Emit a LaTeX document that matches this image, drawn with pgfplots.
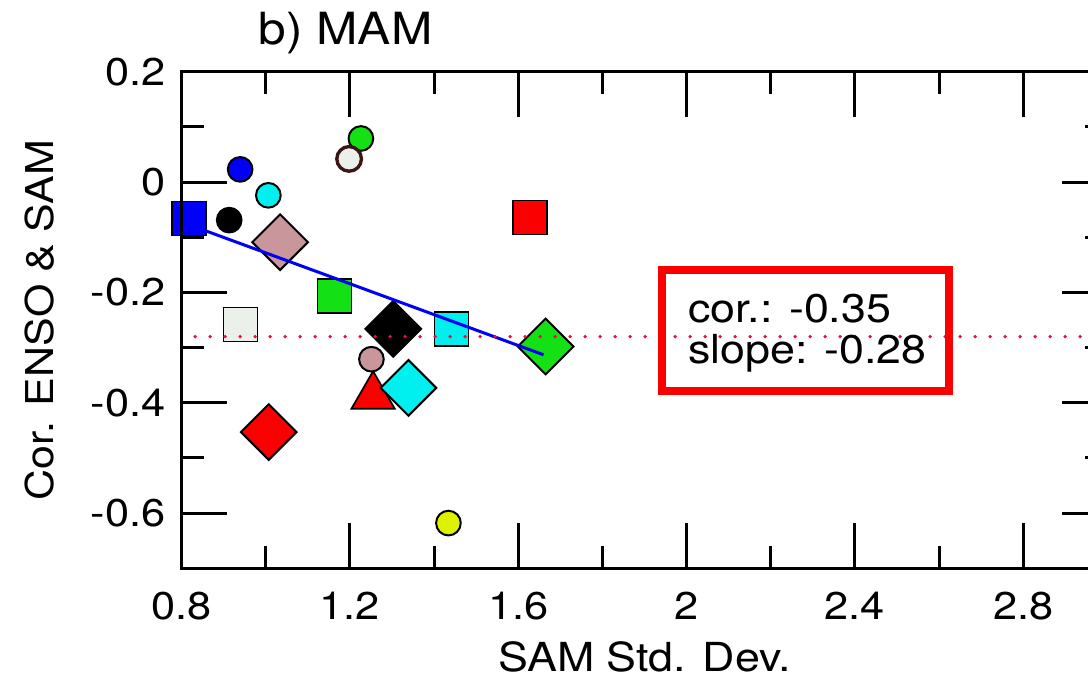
\documentclass[border=0pt]{standalone}
\usepackage{fontspec}
\setmainfont[FakeStretch=1.12]{TeX Gyre Heros}
\usepackage{pgfplots}
\pgfplotsset{compat=1.18}

\definecolor{mblue}{RGB}{0,0,250}
\definecolor{mcyan}{RGB}{0,240,240}
\definecolor{mgreen}{RGB}{20,225,20}
\definecolor{mred}{RGB}{250,0,0}
\definecolor{mpink}{RGB}{200,150,155}
\definecolor{mlight}{RGB}{236,240,234}
\definecolor{myellow}{RGB}{222,242,0}
\definecolor{mbrown}{RGB}{60,20,20}
\definecolor{dotred}{RGB}{225,20,60}

\pgfplotsset{
  sq/.style={only marks, mark=square*, mark size=5.1pt,
    mark options={draw=black, line width=0.5pt, fill=#1}},
  ci/.style={only marks, mark=*, mark size=3.7pt,
    mark options={draw=black, line width=0.6pt, fill=#1}},
  di/.style={only marks, mark=square*, mark size=5.9pt,
    mark options={rotate=45, draw=black, line width=0.6pt, fill=#1}},
  tr/.style={only marks, mark=triangle*, mark size=7.5pt,
    mark options={draw=black, line width=0.5pt, fill=#1}},
}

\begin{document}
\begin{tikzpicture}[x=1pt,y=1pt]
\path[use as bounding box, clip] (-54.5,-32.9) rectangle (271.9,170.5);
\begin{axis}[
  at={(0,0)}, anchor=south west,
  scale only axis, width=277.7pt, height=149pt,
  xmin=0.8, xmax=3.0, ymin=-0.7, ymax=0.2,
  xtick={0.8,1.2,1.6,2,2.4,2.8},
  xticklabels={0.8,1.2,1.6,2,2.4,2.8},
  minor xtick={1.0,1.4,1.8,2.2,2.6},
  ytick={-0.6,-0.4,-0.2,0,0.2},
  yticklabels={-0.6,-0.4,-0.2,0,0.2},
  minor ytick={-0.5,-0.3,-0.1,0.1},
  tick align=inside,
  major tick length=13.5pt, minor tick length=6.6pt,
  axis line style={line width=0.9pt},
  tick style={black, line width=0.9pt},
  tick label style={font=\fontsize{11.6}{13}\selectfont},
  xticklabel style={yshift=-3.7pt},
  yticklabel style={xshift=-1.3pt},
  axis on top,
  clip=false,
  clip marker paths=true,
]
% circles
\addplot[ci=black]  coordinates {(0.913,-0.069)};
\addplot[ci=mblue]  coordinates {(0.939,0.023)};
\addplot[ci=mcyan]  coordinates {(1.006,-0.024)};
\addplot[ci=mgreen] coordinates {(1.226,0.079)};
\addplot[only marks, mark=*, mark size=3.7pt,
  mark options={draw=mbrown, line width=1pt, fill=mlight}] coordinates {(1.198,0.042)};
\addplot[ci=myellow] coordinates {(1.434,-0.618)};
% squares
\addplot[sq=mblue]  coordinates {(0.818,-0.066)};
\addplot[sq=mred]   coordinates {(1.628,-0.064)};
\addplot[sq=mgreen] coordinates {(1.163,-0.207)};
\addplot[sq=mlight] coordinates {(0.940,-0.258)};
\addplot[sq=mcyan]  coordinates {(1.441,-0.266)};
% diamonds
\addplot[di=mpink]  coordinates {(1.034,-0.109)};
\addplot[di=black]  coordinates {(1.303,-0.266)};
\addplot[di=mgreen] coordinates {(1.665,-0.298)};
\addplot[di=mred]   coordinates {(1.007,-0.453)};
% triangle, small circle and diamond in the lower cluster
\addplot[tr=mred]   coordinates {(1.255,-0.388)};
\addplot[ci=mpink]  coordinates {(1.251,-0.321)};
\addplot[di=mcyan]  coordinates {(1.339,-0.373)};
% regression line, drawn over the markers
\addplot[mblue, line width=0.9pt]
  coordinates {(0.82,-0.078) (1.66,-0.313)};
% mean correlation
\addplot[dotred, line width=1.1pt, line cap=round,
  dash pattern=on 0pt off 4.5pt]
  coordinates {(0.832,-0.28) (3.0,-0.28)};
% statistics box
\draw[mred, line width=2.3pt] (axis cs:1.942,-0.159) rectangle (axis cs:2.623,-0.379);
\node[anchor=base west, inner sep=0, font=\fontsize{12}{14}\selectfont]
  at (axis cs:2.003,-0.254) {cor.: -0.35};
\node[anchor=base west, inner sep=0, font=\fontsize{12}{14}\selectfont]
  at (axis cs:2.003,-0.329) {slope: -0.28};
\end{axis}
\node[anchor=base west, inner sep=0, font=\fontsize{13.3}{15}\selectfont]
  at (22.9,157) {b) MAM};
\node[anchor=base, inner sep=0, font=\fontsize{12}{14}\selectfont]
  at (138.9,-31) {SAM Std. Dev.};
\node[rotate=90, inner sep=0, font=\fontsize{11.5}{14}\selectfont]
  at (-42.5,74.5) {Cor. ENSO \& SAM};
\end{tikzpicture}
\end{document}
